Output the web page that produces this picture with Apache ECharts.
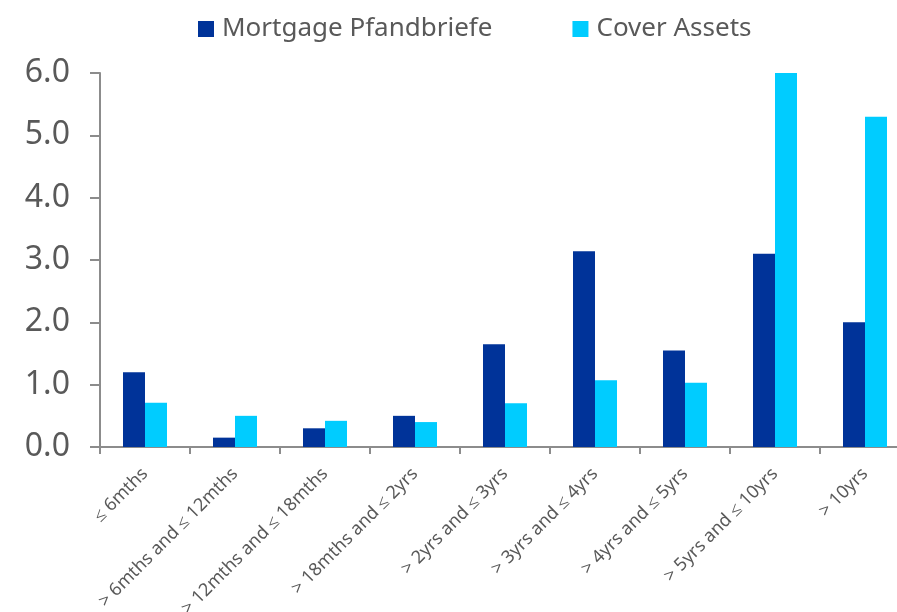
<!DOCTYPE html>
<html>
<head>
<meta charset="utf-8">
<script src="https://cdn.jsdelivr.net/npm/echarts@6/dist/echarts.min.js"></script>
<style>
  html, body { margin: 0; padding: 0; background: #fff; }
  #chart { width: 897px; height: 612px; }
</style>
</head>
<body>
<div id="chart"></div>
<script>
const categories = [
  '≤ 6mths',
  '> 6mths and ≤ 12mths',
  '> 12mths and ≤ 18mths',
  '> 18mths and ≤ 2yrs',
  '> 2yrs and ≤ 3yrs',
  '> 3yrs and ≤ 4yrs',
  '> 4yrs and ≤ 5yrs',
  '> 5yrs and ≤ 10yrs',
  '> 10yrs'
];
const mortgagePfandbriefe = [1.2, 0.15, 0.3, 0.5, 1.65, 3.14, 1.55, 3.1, 2.0];
const coverAssets = [0.71, 0.5, 0.42, 0.4, 0.7, 1.07, 1.03, 6.0, 5.3];

const FONT = 'Noto Sans';
const TEXT = '#595959';
const AXIS = '#8c8c8c';

const chart = echarts.init(document.getElementById('chart'));

chart.setOption({
  backgroundColor: '#fff',
  animation: false,
  textStyle: { fontFamily: FONT, color: TEXT },
  legend: {
    left: 198,
    top: 16,
    padding: 0,
    itemWidth: 16,
    itemHeight: 16,
    itemGap: 80,
    itemStyle: { borderWidth: 0 },
    textStyle: { fontSize: 26, color: TEXT, fontFamily: FONT, padding: [0, 0, 0, 3] },
    data: [
      { name: 'Mortgage Pfandbriefe', icon: 'rect' },
      { name: 'Cover Assets', icon: 'rect' }
    ]
  },
  // plot is wider than the page on purpose: the last category is cut off at the right edge
  grid: { left: 100, top: 73, width: 810, height: 374, outerBoundsMode: 'none' },
  xAxis: {
    type: 'category',
    data: categories,
    axisLine: { lineStyle: { color: AXIS, width: 2 } },
    axisTick: { show: true, alignWithLabel: false, length: 7, lineStyle: { color: AXIS, width: 2 } },
    axisLabel: {
      interval: 0,
      rotate: 45,
      margin: 24,
      fontSize: 18,
      color: TEXT,
      fontFamily: FONT
    }
  },
  yAxis: {
    type: 'value',
    min: 0,
    max: 6,
    interval: 1,
    splitLine: { show: false },
    axisLine: { show: true, lineStyle: { color: AXIS, width: 2 } },
    axisTick: { show: true, length: 10, lineStyle: { color: AXIS, width: 2 } },
    axisLabel: {
      margin: 30,
      fontSize: 32,
      color: TEXT,
      fontFamily: FONT,
      formatter: v => v.toFixed(1)
    }
  },
  series: [
    {
      name: 'Mortgage Pfandbriefe',
      type: 'bar',
      data: mortgagePfandbriefe,
      barWidth: 22,
      barGap: '0%',
      itemStyle: { color: '#003399' }
    },
    {
      name: 'Cover Assets',
      type: 'bar',
      data: coverAssets,
      barWidth: 22,
      barGap: '0%',
      itemStyle: { color: '#00ccff' }
    }
  ]
});
</script>
</body>
</html>
